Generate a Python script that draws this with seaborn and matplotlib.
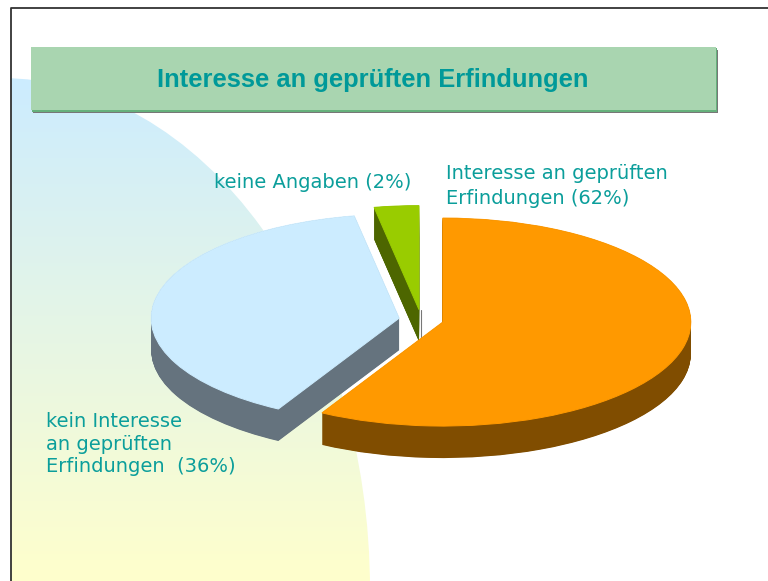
import numpy as np
import matplotlib
matplotlib.use('Agg')
import matplotlib.pyplot as plt
from matplotlib.patches import Ellipse, Rectangle
import seaborn as sns

# Anteile as drawn: the slide's pie is in perspective, so the arcs differ from the printed 62/36/2
kategorien = ['Interesse', 'kein Interesse', 'keine Angaben']
anteile = [58.1, 39.0, 2.9]
explode = [0.09, 0.09, 0.097]
farben_oben = ['#FF9900', '#CCECFF', '#99CC00']
farben_seite = ['#804D00', '#65737E', '#4D6600']

titel = 'Interesse an geprüften Erfindungen'
label_texte = ['Interesse an geprüften\nErfindungen (62%)',
               'kein Interesse\nan geprüften\nErfindungen  (36%)',
               'keine Angaben (2%)']

B, H = 768, 581
cx, cy, rx, ry = 421.2, 319.7, 248, 104
tiefe = 32

sns.set_theme(style='white')
fig = plt.figure(figsize=(B / 100, H / 100), dpi=100, facecolor='white')

# background in pixel coordinates
bg = fig.add_axes([0, 0, 1, 1])
bg.set_xlim(0, B)
bg.set_ylim(H, 0)
bg.axis('off')

verlauf = np.linspace(0, 1, 256)[:, None, None]
oben = np.array(matplotlib.colors.to_rgb('#CCECFF'))
unten = np.array(matplotlib.colors.to_rgb('#FFFFCC'))
bild = oben * (1 - verlauf) + unten * verlauf
im = bg.imshow(bild, extent=(11, 380, 581, 78), aspect='auto', zorder=1)
kreis = Ellipse((0, 590), 740, 1024, transform=bg.transData, facecolor='none', edgecolor='none')
bg.add_patch(kreis)
im.set_clip_path(kreis)
bg.set_xlim(0, B)
bg.set_ylim(H, 0)

# slide frame
bg.plot([10.5, 10.5, B], [H, 7.5, 7.5], color='#333333', lw=1.3, zorder=2, solid_capstyle='butt')

# banner
bg.add_patch(Rectangle((33, 50), 685, 62.5, facecolor='#777777', edgecolor='none', zorder=3))
bg.add_patch(Rectangle((32, 48), 685, 63.5, facecolor='#66B17C', edgecolor='none', zorder=4))
bg.add_patch(Rectangle((31, 47), 685, 63, facecolor='#A9D5B0', edgecolor='none', zorder=5))
bg.text(373, 80, titel, ha='center', va='center', fontsize=18.4, fontweight='bold',
        family='Liberation Sans', color='#009999', zorder=6)

# pie: axes limits stretch the unit circle to the flat ellipse
ax = fig.add_axes([0, 0, 1, 1])
ax.patch.set_alpha(0)
schichten = np.arange(tiefe, -0.5, -0.5)
for i in [2, 1, 0]:
    einzeln = dict(startangle=90, counterclock=False, radius=1)
    for d in schichten:
        w, _ = ax.pie(anteile, explode=explode, center=(0, -d / ry), frame=True, **einzeln,
                      colors=farben_seite, wedgeprops=dict(linewidth=0))
        for j, k in enumerate(w):
            k.set_visible(j == i)
    w, _ = ax.pie(anteile, explode=explode, center=(0, 0), frame=True, **einzeln,
                  colors=farben_oben, wedgeprops=dict(linewidth=0.7))
    for j, k in enumerate(w):
        k.set_edgecolor(farben_oben[j])
        k.set_visible(j == i)
ax.set_aspect('auto')
ax.set_xlim(-cx / rx, (B - cx) / rx)
ax.set_ylim((cy - H) / ry, cy / ry)
ax.axis('off')
ax.plot([0, 0], [(cy - 310) / ry, (cy - 340) / ry], color='#777777', lw=0.8, zorder=0.5)

# labels
lab = fig.add_axes([0, 0, 1, 1])
lab.set_xlim(0, B)
lab.set_ylim(H, 0)
lab.axis('off')
lab.patch.set_alpha(0)
lab.text(446, 186, label_texte[0], color='#0B9E9B', fontsize=14, family='DejaVu Sans', ha='left',
         va='center', linespacing=1.37)
lab.text(46, 444, label_texte[1], color='#0B9E9B', fontsize=14, family='DejaVu Sans', ha='left',
         va='center', linespacing=1.21)
lab.text(214, 183, label_texte[2], color='#0B9E9B', fontsize=14, family='DejaVu Sans', ha='left',
         va='center')

fig.savefig('out.png', dpi=100)
